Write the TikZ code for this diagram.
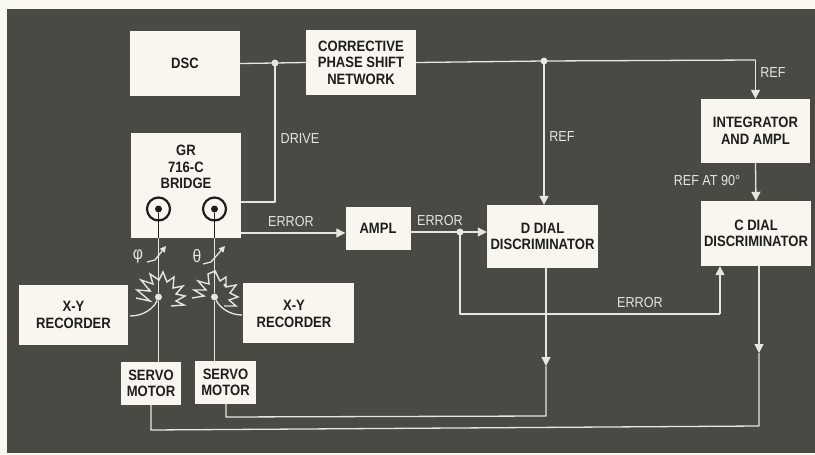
\documentclass[tikz,border=0pt]{standalone}
\usepackage{fontspec}
\setmainfont[FakeStretch=0.87]{Liberation Sans}
\usetikzlibrary{arrows.meta,calc}
\definecolor{paper}{HTML}{F8F7F0}
\definecolor{ground}{HTML}{4A4A45}
\definecolor{boxfill}{HTML}{F9F6F0}
\definecolor{ink}{HTML}{1E1E1C}
\definecolor{wire}{HTML}{E6E6DE}
\tikzset{
  blockbox/.style={draw=none,fill=boxfill,text=ink,inner sep=0pt,align=center,
    font=\fontsize{15}{16.5}\selectfont\bfseries},
  blocktext/.style={text=ink,inner sep=0pt,align=center,font=\fontsize{15}{16.5}\selectfont\bfseries},
  wirelabel/.style={text=wire,inner sep=0pt,font=\fontsize{14.5}{16}\selectfont},
  wireline/.style={draw=wire,line width=1.3pt,line join=round},
  arrowline/.style={wireline,-{Triangle[width=9pt,length=9pt,fill=wire]}},
  junction/.style={circle,fill=wire,inner sep=0pt,minimum size=7pt},
  tinydot/.style={circle,fill=wire,inner sep=0pt,minimum size=3.5pt},
  socket/.style={circle,draw=ink,line width=2.2pt,fill=boxfill,inner sep=0pt,minimum size=23pt},
  pin/.style={circle,fill=ink,inner sep=0pt,minimum size=7pt},
}
\begin{document}
\begin{tikzpicture}[x=1pt,y=-1pt]
\useasboundingbox (0,0) rectangle (815,455);
\fill[paper] (0,0) rectangle (815,455);
\fill[ground] (7,9) rectangle (815,453);

% blocks
\node[blockbox,minimum width=110pt,minimum height=65pt] (dsc) at (185,63.5) {DSC};
\node[blockbox,minimum width=110pt,minimum height=65pt] (cps) at (361,62.5) {CORRECTIVE\\PHASE SHIFT\\NETWORK};
\node[blockbox,minimum width=110pt,minimum height=105pt] (gr) at (186,185.5) {};
\node[blocktext] (grt) at (186,167) {GR\\716-C\\BRIDGE};
\node[blockbox,minimum width=109pt,minimum height=60pt] (xyl) at (73.5,315) {X-Y\\RECORDER};
\node[blockbox,minimum width=111pt,minimum height=60pt] (xyr) at (298.5,313) {};
\node[blocktext] (xyrt) at (294,314) {X-Y\\RECORDER};
\node[blockbox,minimum width=60pt,minimum height=43pt] (svl) at (151,383.5) {SERVO\\MOTOR};
\node[blockbox,minimum width=61pt,minimum height=43pt] (svr) at (225.5,382.5) {SERVO\\MOTOR};
\node[blockbox,minimum width=65pt,minimum height=43pt] (amp) at (378,228.5) {AMPL};
\node[blockbox,minimum width=111pt,minimum height=63pt] (dd) at (542.5,236.5) {D DIAL\\DISCRIMINATOR};
\node[blockbox,minimum width=110pt,minimum height=65pt] (cd) at (756,233.5) {C DIAL\\DISCRIMINATOR};
\node[blockbox,minimum width=109pt,minimum height=64pt] (ig) at (755.5,131) {INTEGRATOR\\AND AMPL};

% sockets
\node[socket] (s1) at (158.5,209) {};
\node[socket] (s2) at (214.5,209) {};
\node[pin] (p1) at (158.5,209) {};
\node[pin] (p2) at (214.5,209) {};
\coordinate (b1) at (158.5,238);
\coordinate (b2) at (214.5,238);
\draw[ink,line width=1.8pt] (p1) -- (b1);
\draw[ink,line width=1.8pt] (p2) -- (b2);

% junctions
\coordinate (j1) at (275,63);
\coordinate (j2) at (544,61);
\coordinate (j3) at (755.5,60);
\coordinate (j4) at (275,202);
\coordinate (j5) at (460,232);
\coordinate (j6) at (241,233);
\coordinate (e1) at (460,314);
\coordinate (e2) at (720,314);

% signal wires
\draw[wireline] (dsc.east) -- (j1) -- (cps.west);
\draw[wireline] (cps.east) -- (j2) -- (j3);
\draw[arrowline] (j3) -- (ig.north);
\draw[arrowline] (j2) -- (j2 |- dd.north);
\draw[arrowline] (ig.south) -- (cd.north);
\draw[wireline] (j1) -- (j4) -- (j4 -| gr.east);
\draw[arrowline] (j6) -- (j6 -| amp.west);
\draw[wireline] (j5 -| amp.east) -- (j5);
\draw[arrowline] (j5) -- (j5 -| dd.west);
\draw[wireline] (j5) -- (e1) -- (e2);
\draw[arrowline] (e2) -- (e2 |- cd.south);

% outputs to servos
\coordinate (d0) at (546,268);
\coordinate (d1) at (546,366);
\coordinate (d2) at (546,416);
\coordinate (d3) at (226,417);
\coordinate (d4) at (226,404);
\draw[arrowline] (d0) -- (d1);
\draw[wireline] (d1) -- (d2) -- (d3) -- (d4);
\coordinate (c0) at (759,266);
\coordinate (c1) at (759,353);
\coordinate (c2) at (759,426);
\coordinate (c3) at (151,430);
\coordinate (c4) at (151,405);
\draw[arrowline] (c0) -- (c1);
\draw[wireline] (c1) -- (c2) -- (c3) -- (c4);

% potentiometers
\node[junction] (w1) at (158.5,297) {};
\node[junction] (w2) at (214.5,297) {};
\draw[wireline] (b1) -- (w1) -- (w1 |- svl.north);
\draw[wireline] (b2) -- (w2) -- (w2 |- svr.north);
\draw[wire,line width=1.4pt,line join=miter]
  (136,298) -- (150,301) -- (137,290) -- (150,291) -- (141,280) -- (153,284) -- (150,274)
  -- (159,280) -- (163,272) -- (167,282) -- (174,277) -- (173,288) -- (183,286) -- (176,294)
  -- (185,296) -- (176,301) -- (184,305) -- (171,306);
\draw[wire,line width=1.4pt,line join=miter]
  (192,298) -- (204,296) -- (194,290) -- (206,290) -- (198,281) -- (209,284) -- (208,274)
  -- (215,271) -- (220,281) -- (226,277) -- (226,287) -- (236,285) -- (230,293) -- (238,297)
  -- (229,300) -- (236,306) -- (224,306);
\draw[wire,line width=1.3pt] (w1) .. controls (154,308) and (144,316) .. (130,316);
\draw[wire,line width=1.3pt] (w2) .. controls (220,308) and (230,315) .. (242,315);
\coordinate (a1) at (147,262);
\coordinate (a2) at (155,260);
\coordinate (a3) at (166,246);
\draw[wire,line width=1.3pt,-{Triangle[width=6pt,length=6pt,fill=wire]}] (a1) -- (a2) -- (a3);
\coordinate (a4) at (203,264);
\coordinate (a5) at (211,262);
\coordinate (a6) at (225,246);
\draw[wire,line width=1.3pt,-{Triangle[width=6pt,length=6pt,fill=wire]}] (a4) -- (a5) -- (a6);
\node[tinydot] (t1) at (215,272) {};
\node[tinydot] (t2) at (225,285) {};
\node[tinydot] (t3) at (149,290) {};

\node[junction] (dj1) at (j1) {};
\node[junction] (dj2) at (j2) {};
\node[junction] (dj5) at (j5) {};

% labels
\node[wirelabel] (l1) at (300,139) {DRIVE};
\node[wirelabel] (l2) at (291,222) {ERROR};
\node[wirelabel] (l3) at (440,221) {ERROR};
\node[wirelabel] (l4) at (773,73) {REF};
\node[wirelabel] (l5) at (562,137) {REF};
\node[wirelabel] (l6) at (707,181) {REF AT 90°};
\node[wirelabel] (l7) at (640,303) {ERROR};
\node[wirelabel,font=\fontsize{18}{18}\selectfont] (l8) at (138,257) {φ};
\node[wirelabel,font=\fontsize{18}{18}\selectfont] (l9) at (197,256) {θ};
\end{tikzpicture}
\end{document}
